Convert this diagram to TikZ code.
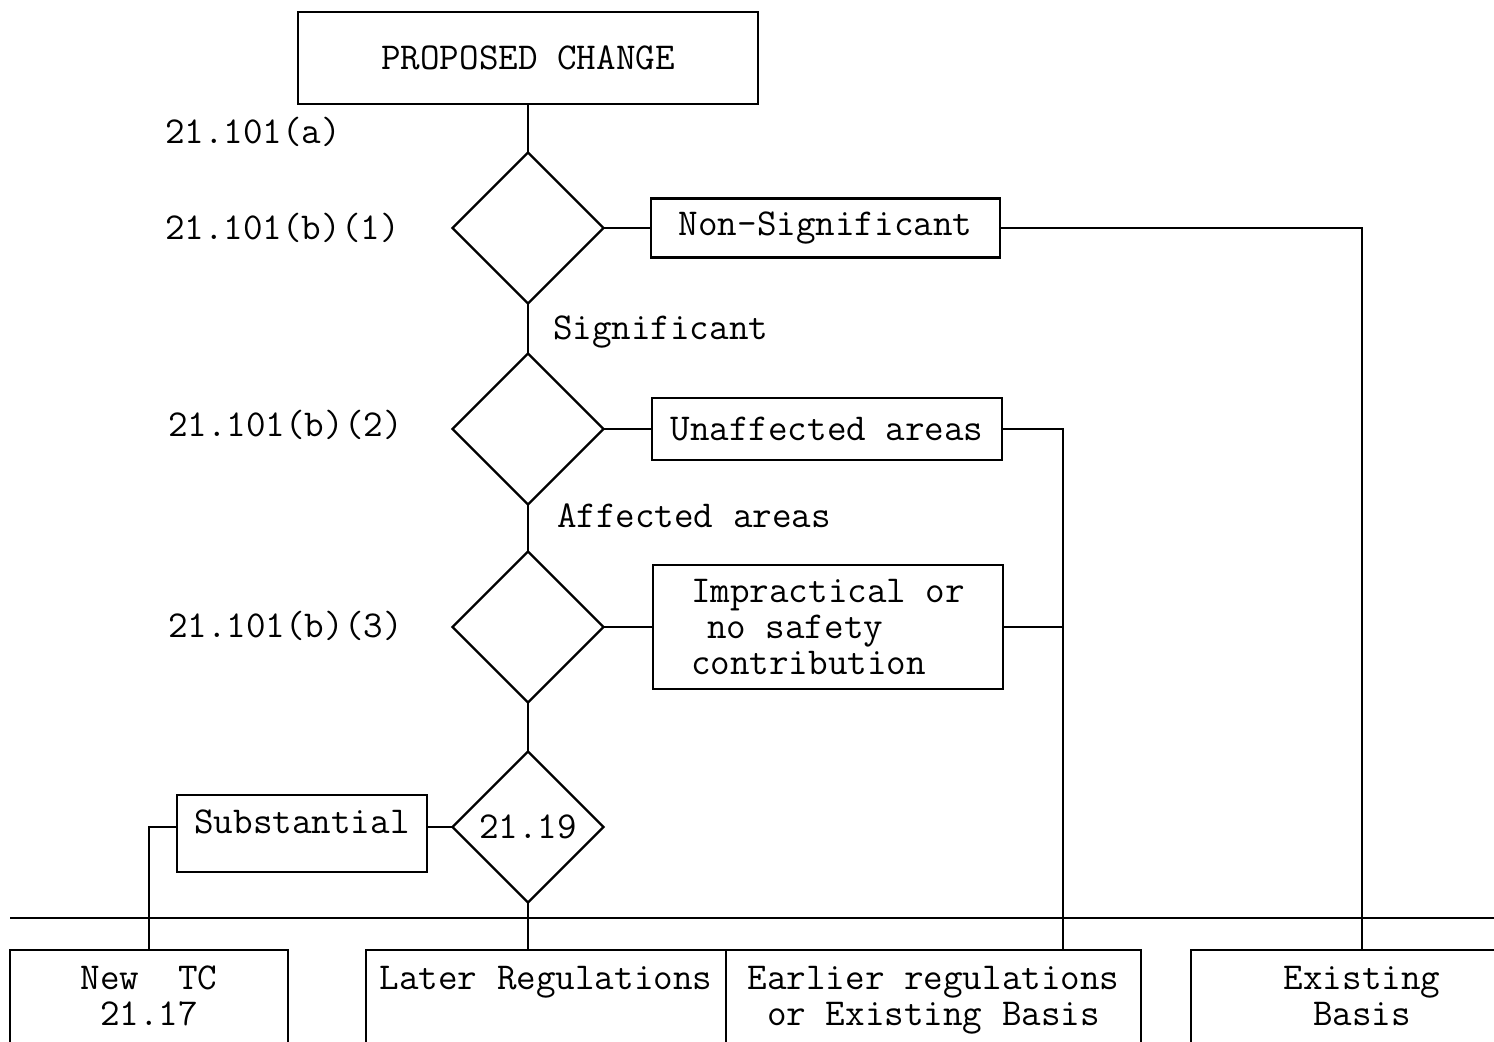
\documentclass[tikz,border=0pt]{standalone}
\usetikzlibrary{shapes.geometric}
\begin{document}
\begin{tikzpicture}[x=0.5pt,y=-0.5pt, line width=1.2pt,
  every node/.style={font=\fontsize{19}{18}\selectfont\ttfamily, inner sep=0pt, outer sep=0pt},
  box/.style={draw, rectangle},
  dec/.style={draw, diamond, minimum width=75.5pt, minimum height=75.5pt},
  lbl/.style={anchor=west},
  basebox/.style={draw, rectangle, anchor=north, inner ysep=8pt, align=center}]
\clip (0,0) rectangle (1494,1042);
% main column
\node[box, minimum width=230pt, minimum height=46pt] (pc) at (528,58) {PROPOSED CHANGE};
\node[dec] (d1) at (528,228) {};
\node[dec] (d2) at (528,429) {};
\node[dec] (d3) at (528,627) {};
\node[dec] (d4) at (528,827) {21.19};
% side boxes
\node[box, minimum width=174.5pt, minimum height=29.5pt] (ns) at (825.5,228) {Non-Significant};
\node[box, minimum width=175pt, minimum height=31pt] (ua) at (827,429) {Unaffected areas};
\node[box, minimum width=175pt, minimum height=62pt, align=left] (ip) at (828,627) {Impractical or\\\hspace*{8pt}no safety\\contribution};
\node[box, minimum width=125pt, minimum height=38.5pt, text height=11pt, text depth=11pt] (sb) at (302,833.5) {Substantial};
% labels
\node[lbl] (la) at (165,132) {21.101(a)};
\node[lbl] (lb1) at (165,228) {21.101(b)(1)};
\node[lbl] (lb2) at (168,425) {21.101(b)(2)};
\node[lbl] (lb3) at (168,626) {21.101(b)(3)};
\node[lbl] (sig) at (553,332) {Significant};
\node[lbl] (aff) at (557,516) {Affected areas};
% bottom boxes
\node[basebox, minimum width=139pt] (tc) at (149,950) {New~~TC\\21.17\\\mbox{}};
\node[basebox, minimum width=180pt] (lr) at (546,950) {Later Regulations\\\mbox{}\\\mbox{}};
\node[basebox, minimum width=207.5pt] (er) at (933.5,950) {Earlier regulations\\or Existing Basis\\\mbox{}};
\node[basebox, minimum width=171pt] (eb) at (1362,950) {Existing\\Basis\\\mbox{}};
% horizontal line
\coordinate (hl) at (10,918);
\coordinate (hr) at (1494,918);
\draw (hl) -- (hr);
% connectors
\draw (pc.south) -- (d1.north);
\draw (d1.east) -- (ns.west);
\draw (ns.east) -| (eb.north);
\draw (d1.south) -- (d2.north);
\draw (d2.east) -- (ua.west);
\coordinate (jn) at (1063,429);
\draw (ua.east) -- (jn) -- (jn |- er.north);
\draw (d2.south) -- (d3.north);
\draw (d3.east) -- (ip.west);
\draw (ip.east) -- (ip.east -| jn);
\draw (d3.south) -- (d4.north);
\draw (d4.west) -- (d4.west -| sb.east);
\draw (sb.west |- d4.west) -| (tc.north);
\draw (d4.south) -- (d4.south |- lr.north);
\end{tikzpicture}
\end{document}
